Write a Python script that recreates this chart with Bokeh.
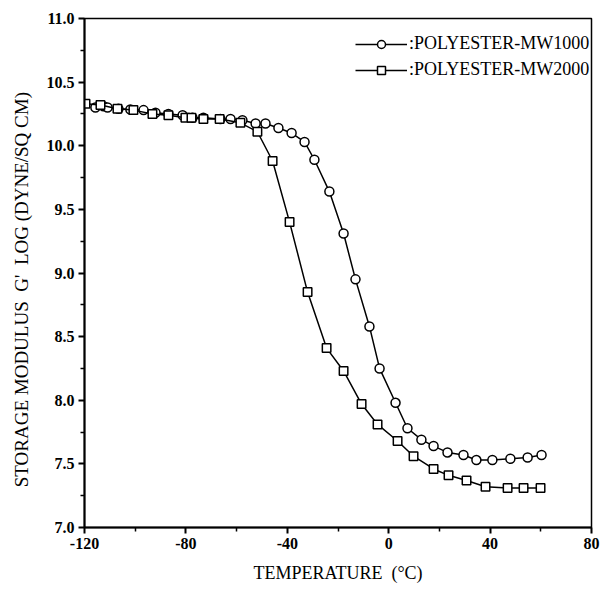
from bokeh.plotting import figure
from bokeh.models import Range1d, FixedTicker, PrintfTickFormatter, Legend, LegendItem
from bokeh.embed import file_html
from bokeh.resources import INLINE

# ---- data ----
mw1000_temp = [-115.7, -112.5, -110.9, -106.6, -101.9, -96.7, -92.0, -86.9, -81.3, -77.4,
               -73.1, -66.4, -62.4, -57.7, -52.5, -48.6, -43.5, -38.3, -33.2, -29.3,
               -23.4, -17.8, -13.1, -7.6, -3.6, 2.7, 7.4, 12.9, 17.7, 23.2,
               29.5, 34.6, 40.9, 48.0, 54.8, 60.3]
mw1000_logG = [10.30, 10.31, 10.30, 10.29, 10.285, 10.28, 10.26, 10.25, 10.24, 10.22,
               10.22, 10.21, 10.21, 10.20, 10.175, 10.175, 10.14, 10.10, 10.03, 9.89,
               9.64, 9.31, 8.95, 8.58, 8.25, 7.98, 7.78, 7.69, 7.64, 7.59,
               7.57, 7.53, 7.53, 7.54, 7.55, 7.57]

mw2000_temp = [-119.6, -113.7, -107.0, -100.7, -93.2, -86.9, -80.2, -77.8, -73.1, -66.7,
               -58.5, -51.8, -45.8, -39.1, -32.0, -24.5, -17.8, -10.7, -4.4, 3.5,
               9.8, 17.7, 23.6, 30.7, 38.2, 46.9, 53.2, 59.9]
mw2000_logG = [10.33, 10.32, 10.29, 10.28, 10.25, 10.24, 10.22, 10.22, 10.21, 10.21,
               10.18, 10.11, 9.88, 9.40, 8.85, 8.41, 8.23, 7.97, 7.81, 7.68,
               7.56, 7.46, 7.41, 7.37, 7.32, 7.31, 7.31, 7.31]

series_labels = [":POLYESTER-MW1000", ":POLYESTER-MW2000"]
x_ticks = [-120, -80, -40, 0, 40, 80]
x_minor = [-100, -60, -20, 20, 60]
y_ticks = [7.0, 7.5, 8.0, 8.5, 9.0, 9.5, 10.0, 10.5, 11.0]
y_minor = [7.25, 7.75, 8.25, 8.75, 9.25, 9.75, 10.25, 10.75]

FONT = "Liberation Serif"
NB = "\u00a0"

p = figure(width=602, height=593, output_backend="svg", toolbar_location=None,
           x_range=Range1d(-120, 80), y_range=Range1d(7.0, 11.0),
           min_border_left=84, min_border_right=11, min_border_top=18, min_border_bottom=66)
p.grid.visible = False
p.outline_line_color = "black"
p.outline_line_width = 1.5
p.background_fill_color = "white"
p.border_fill_color = "white"

p.xaxis.ticker = FixedTicker(ticks=x_ticks, minor_ticks=x_minor)
p.yaxis.ticker = FixedTicker(ticks=y_ticks, minor_ticks=y_minor)
p.xaxis.formatter = PrintfTickFormatter(format="%d")
p.yaxis.formatter = PrintfTickFormatter(format="%.1f")

for ax in (p.xaxis[0], p.yaxis[0]):
    ax.axis_line_width = 2
    ax.axis_line_color = "black"
    ax.major_tick_in = 0
    ax.major_tick_out = 6
    ax.minor_tick_in = 0
    ax.minor_tick_out = 4
    ax.major_tick_line_width = 2
    ax.minor_tick_line_width = 1.5
    ax.major_label_text_font = FONT
    ax.major_label_text_font_size = "16px"
    ax.major_label_text_font_style = "bold"
    ax.major_label_text_color = "black"
    ax.axis_label_text_font = FONT
    ax.axis_label_text_font_style = "normal"
    ax.axis_label_text_color = "black"
    ax.major_label_standoff = 4

p.xaxis.axis_label = "TEMPERATURE" + NB + NB + "(°C)"
p.xaxis.axis_label_text_font_size = "18px"
p.xaxis.axis_label_standoff = 11
p.yaxis.axis_label = ("STORAGE MODULUS" + NB + NB + "G'" + NB + NB + "LOG (DYNE/SQ CM)"
                      + NB * 7)
p.yaxis.axis_label_text_font_size = "19px"
p.yaxis.axis_label_standoff = 12

l1 = p.line(mw1000_temp, mw1000_logG, line_color="black", line_width=1.5)
s1 = p.scatter(mw1000_temp, mw1000_logG, marker="circle", size=9,
               fill_color="white", line_color="black", line_width=1.5)
l2 = p.line(mw2000_temp, mw2000_logG, line_color="black", line_width=1.5)
s2 = p.scatter(mw2000_temp, mw2000_logG, marker="square", size=8.5,
               fill_color="white", line_color="black", line_width=1.5)

legend = Legend(items=[LegendItem(label=series_labels[0], renderers=[l1, s1]),
                       LegendItem(label=series_labels[1], renderers=[l2, s2])],
                location=(271, 447), padding=0, margin=0, spacing=5,
                glyph_width=52, glyph_height=20, label_height=20, label_standoff=2,
                label_text_font=FONT, label_text_font_size="18px",
                label_text_color="black", label_text_baseline="middle",
                border_line_alpha=0, background_fill_alpha=0)
p.add_layout(legend)

open("out.html", "w").write(file_html(p, INLINE))
